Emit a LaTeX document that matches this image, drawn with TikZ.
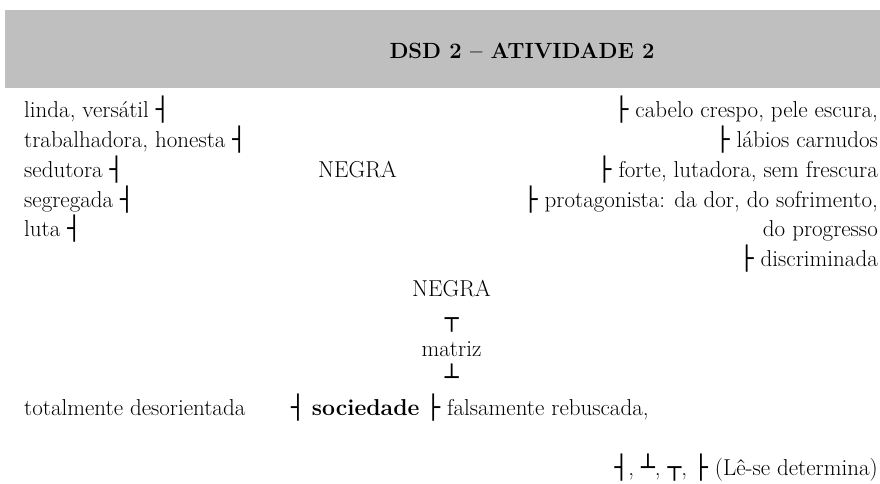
\documentclass[tikz,border=0pt]{standalone}
\usepackage{fontspec}
\usepackage{tikz}
\newfontfamily\boxfont{DejaVu Sans}

\begin{document}
\begin{tikzpicture}[x=1pt,y=-1pt]
\tikzstyle{every node}=[inner sep=0pt, font=\fontsize{23}{28}\selectfont]
\tikzstyle{lft}=[anchor=base west]
\tikzstyle{rgt}=[anchor=base east]
\useasboundingbox (0,0) rectangle (880,483);
% title band
\fill[gray!50] (5,10) rectangle (880,88);
\node at (522,58) [anchor=base, font=\fontsize{22}{26}\selectfont\bfseries] (title) {DSD 2 – ATIVIDADE 2};
% left column
\node at (24,117.7) [lft] (l1) {linda, versátil {\boxfont ┤}};
\node at (24,147.5) [lft] (l2) {trabalhadora, honesta {\boxfont ┤}};
\node at (24,177.3) [lft] (l3) {sedutora {\boxfont ┤}};
\node at (24,207.1) [lft] (l4) {segregada {\boxfont ┤}};
\node at (24,236.9) [lft] (l5) {luta {\boxfont ┤}};
\node at (357.5,177.3) [anchor=base] (n1) {NEGRA};
% right column
\node at (878,117.7) [rgt] (r1) {{\boxfont ├} cabelo crespo, pele escura,};
\node at (878,147.5) [rgt] (r2) {{\boxfont ├} lábios carnudos};
\node at (878,177.3) [rgt] (r3) {{\boxfont ├} forte, lutadora, sem frescura};
\node at (878,207.1) [rgt] (r4) {{\boxfont ├} protagonista: da dor, do sofrimento,};
\node at (878,236.9) [rgt] (r5) {do progresso};
\node at (878,266.7) [rgt] (r6) {{\boxfont ├} discriminada};
% middle column
\node at (451.5,296.5) [anchor=base] (n2) {NEGRA};
\node at (451.7,326.3) [anchor=base] (t1) {\boxfont ┬};
\node at (451.5,356.1) [anchor=base] (m) {matriz};
\node at (451.7,385.9) [anchor=base] (t2) {\boxfont ┴};
% sociedade line
\node at (24,415.7) [lft] (s1) {totalmente desorientada};
\node at (291,415.7) [lft] (s2) {{\boxfont ┤} \textbf{sociedade} {\boxfont ├} falsamente rebuscada,};
% legend
\node at (878,475.3) [rgt] (leg) {{\boxfont ┤}, {\boxfont ┴}, {\boxfont ┬}, {\boxfont ├} (Lê-se determina)};
\end{tikzpicture}
\end{document}
